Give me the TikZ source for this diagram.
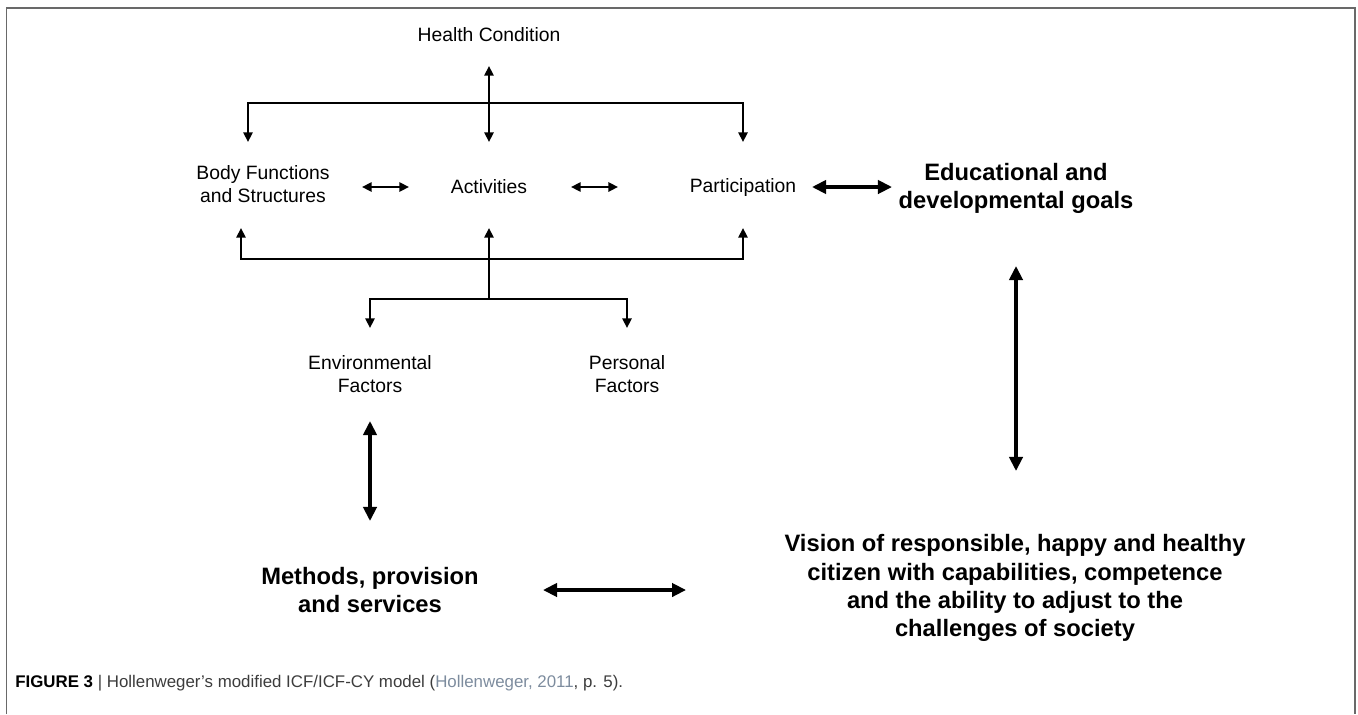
\documentclass[tikz,border=0pt]{standalone}
\usepackage{fontspec}
\setmainfont{Liberation Sans}
\usetikzlibrary{arrows.meta}

\definecolor{framegray}{RGB}{105,105,105}
\definecolor{citeblue}{RGB}{125,140,158}
\definecolor{captext}{RGB}{60,60,60}

\begin{document}
\begin{tikzpicture}[x=0.02cm,y=-0.02cm,
  every node/.style={inner sep=0pt,align=center,font=\fontsize{11}{13.2}\selectfont},
  goal/.style={font=\fontsize{13.5}{16}\selectfont\bfseries},
  link/.style={line width=1.4pt,>={Triangle[length=5.5pt,width=5.2pt]}},
  biglink/.style={line width=2.4pt,>={Triangle[length=8pt,width=7.5pt]}}]
\useasboundingbox (0,0) rectangle (1358,714);
\draw[framegray,line width=1.1pt] (6.5,714) -- (6.5,8) -- (1355,8) -- (1355,714);

\node (hc) at (489,35) {Health Condition};
\node (bfs) at (263,184) {Body Functions\\and Structures};
\node (act) at (489,187) {Activities};
\node (par) at (743,187) {Participation};
\node[goal] (edu) at (1016,188) {Educational and\\developmental goals};
\node (env) at (370,374) {Environmental\\Factors};
\node (pers) at (627,374) {Personal\\Factors};
\node[goal] (meth) at (370,590) {Methods, provision\\and services};
\node[goal] (vis) at (1015,588) {Vision of responsible, happy and healthy\\citizen with capabilities, competence\\and the ability to adjust to the\\challenges of society};
\node[anchor=west,font=\fontsize{9.6}{11}\selectfont,text=captext] (cap) at (15,683)
  {\textbf{\color{black}FIGURE 3} | Hollenweger's modified ICF/ICF-CY model (\textcolor{citeblue}{Hollenweger, 2011}, p. 5).};

\coordinate (bfs-in) at (248,142);
\coordinate (par-in) at (743,142);
\coordinate (bfs-out) at (241,228);
\coordinate (act-out) at (489,228);
\coordinate (par-out) at (743,228);
\coordinate (hub) at (489,299);
\coordinate (env-in) at (370,328);
\coordinate (pers-in) at (627,328);

% health condition and the three components
\draw[link,<->,shorten <=0.62cm,shorten >=0.9cm] (hc.center) -- (act.center);
\draw[link,<->] (bfs-in) -- ++(0,-39) -| (par-in);
\draw[link,<->,shorten <=1.98cm,shorten >=1.6cm] (bfs.center |- act.center) -- (act.center);
\draw[link,<->,shorten <=1.64cm,shorten >=2.5cm] (act.center) -- (par.center);
% contextual factors
\draw[link,<->] (bfs-out) -- ++(0,31) -| (par-out);
\draw[link,->] (hub) -- (act-out);
\draw[link,<->] (env-in) -- ++(0,-29) -| (pers-in);
% goals and methods
\draw[biglink,<->,shorten <=1.38cm,shorten >=2.48cm] (par.center) -- (edu.center |- par.center);
\draw[biglink,<->,shorten <=1.56cm,shorten >=2.34cm] (edu.center) -- (edu.center |- vis.center);
\draw[biglink,<->,shorten <=0.94cm,shorten >=1.38cm] (env.center) -- (meth.center);
\draw[biglink,<->,shorten <=3.46cm,shorten >=6.58cm] (meth.center) -- (vis.center |- meth.center);
\end{tikzpicture}
\end{document}
